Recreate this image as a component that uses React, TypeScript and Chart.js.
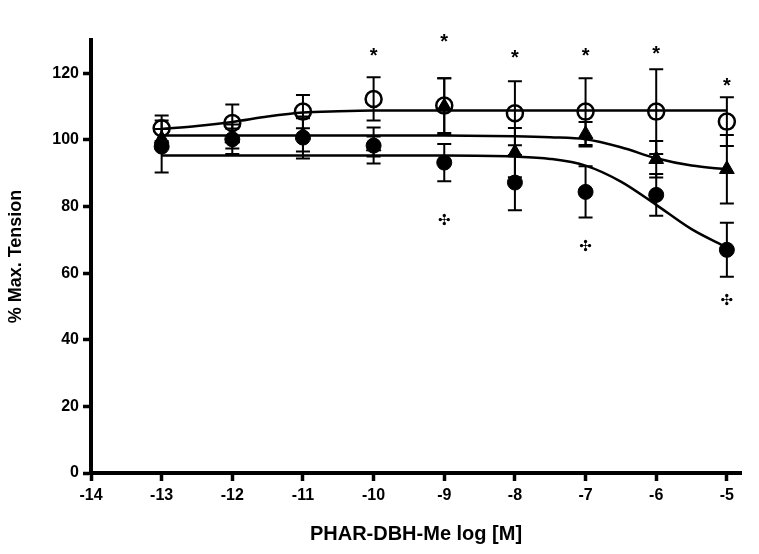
import { useEffect, useRef } from "react";
import { Chart, registerables, type Plugin } from "chart.js";

Chart.register(...registerables);

// doses (log M) and measured responses (% max tension), mean and SEM
const doses = [-13, -12, -11, -10, -9, -8, -7, -6, -5];
const openMean = [103.5, 105.1, 108.5, 112.3, 110.3, 108.0, 108.5, 108.5, 105.5];
const openSem = [3.8, 5.5, 5.0, 6.5, 8.2, 9.6, 10.0, 12.7, 7.3];
const triMean = [100.3, 100.4, 101.5, 98.0, 110.0, 96.2, 101.7, 94.2, 91.2];
const triSem = [3.0, 3.0, 5.0, 3.0, 8.5, 7.4, 3.7, 5.5, 10.3];
const dotMean = [98.0, 100.2, 100.7, 98.3, 93.2, 87.2, 84.4, 83.5, 67.0];
const dotSem = [7.8, 4.4, 6.3, 5.4, 5.6, 8.3, 7.7, 6.3, 8.1];

// fitted curves
const openFitX = [-13, -12.5, -12, -11.5, -11, -10.5, -10, -9, -5];
const openFit = [103.3, 104.2, 105.4, 107.0, 108.2, 108.6, 108.8, 108.8, 108.8];
const lowFitX = [-13, -9, -8, -7.5, -7, -6.5, -6, -5.5, -5];
const triFit = [101.3, 101.3, 101.1, 100.8, 100.2, 97.8, 94.5, 92.3, 91.2];
const dotFit = [95.3, 95.3, 95.0, 94.3, 92.3, 87.5, 80.5, 73.2, 67.7];

// significance marks
const starX = [-10, -9, -8, -7, -6, -5];
const starY = [126.3, 130.5, 125.8, 126.3, 127.1, 117.5];
const crossX = [-9, -7, -5];
const crossY = [76.0, 68.3, 52.1];

const xTicks = [-14, -13, -12, -11, -10, -9, -8, -7, -6, -5];
const yTicks = [0, 20, 40, 60, 80, 100, 120];

const FONT = "'Liberation Sans', Arial, sans-serif";

const pts = (xs: number[], ys: number[]) => xs.map((x, i) => ({ x, y: ys[i] }));

const errorBars: Plugin = {
    id: "errorBars",
    beforeDatasetsDraw(chart) {
        const { ctx, scales } = chart;
        const sx = scales.x, sy = scales.y;
        const groups = [
            { m: openMean, s: openSem },
            { m: triMean, s: triSem },
            { m: dotMean, s: dotSem },
        ];
        ctx.save();
        ctx.strokeStyle = "#000";
        ctx.lineWidth = 2;
        for (const g of groups) {
            doses.forEach((d, i) => {
                const x = sx.getPixelForValue(d);
                const yTop = sy.getPixelForValue(g.m[i] + g.s[i]);
                const yBot = sy.getPixelForValue(g.m[i] - g.s[i]);
                ctx.beginPath();
                ctx.moveTo(x, yTop); ctx.lineTo(x, yBot);
                ctx.moveTo(x - 7, yTop); ctx.lineTo(x + 7, yTop);
                ctx.moveTo(x - 7, yBot); ctx.lineTo(x + 7, yBot);
                ctx.stroke();
            });
        }
        ctx.restore();
    },
};

const marks: Plugin = {
    id: "marks",
    afterDraw(chart) {
        const { ctx, scales } = chart;
        const put = (txt: string, xs: number[], ys: number[], font: string) => {
            ctx.font = font;
            const m = ctx.measureText(txt);
            const dy = (m.actualBoundingBoxAscent - m.actualBoundingBoxDescent) / 2;
            xs.forEach((v, i) => {
                ctx.fillText(txt, scales.x.getPixelForValue(v), scales.y.getPixelForValue(ys[i]) + dy);
            });
        };
        ctx.save();
        ctx.fillStyle = "#000";
        ctx.textAlign = "center";
        ctx.textBaseline = "alphabetic";
        put("*", starX, starY, `bold 20px ${FONT}`);
        put("\u2723", crossX, crossY, "15px 'DejaVu Sans', sans-serif");
        ctx.restore();
    },
};

export default function App() {
    const canvasRef = useRef<HTMLCanvasElement>(null);
    const chartRef = useRef<Chart | null>(null);

    useEffect(() => {
        if (!canvasRef.current) return;
        if (chartRef.current) chartRef.current.destroy();

        const axisFont = { family: FONT, size: 16, weight: "bold" as const };
        const fitLine = { showLine: true, cubicInterpolationMode: "monotone" as const, borderColor: "#000", borderWidth: 2.5, pointRadius: 0, order: 5 };

        chartRef.current = new Chart(canvasRef.current, {
            type: "scatter",
            data: {
                datasets: [
                    { label: "fit open", data: pts(openFitX, openFit), ...fitLine },
                    { label: "fit triangle", data: pts(lowFitX, triFit), ...fitLine },
                    { label: "fit filled", data: pts(lowFitX, dotFit), ...fitLine },
                    {
                        label: "filled",
                        data: pts(doses, dotMean),
                        pointStyle: "circle",
                        pointRadius: 7.5,
                        backgroundColor: "#000",
                        borderColor: "#000",
                        borderWidth: 1,
                        order: 3,
                    },
                    {
                        label: "triangle",
                        data: pts(doses, triMean),
                        pointStyle: "triangle",
                        pointRadius: 8.5,
                        backgroundColor: "#000",
                        borderColor: "#000",
                        borderWidth: 1,
                        order: 2,
                    },
                    {
                        label: "open",
                        data: pts(doses, openMean),
                        pointStyle: "circle",
                        pointRadius: 8,
                        backgroundColor: "rgba(0,0,0,0)",
                        borderColor: "#000",
                        borderWidth: 2.5,
                        order: 1,
                    },
                ],
            },
            options: {
                animation: false,
                responsive: false,
                layout: { padding: { left: 4, right: 18, top: 40, bottom: 0 } },
                plugins: { legend: { display: false }, tooltip: { enabled: false } },
                scales: {
                    x: {
                        type: "linear",
                        min: -14,
                        max: -4.8,
                        afterBuildTicks: (s) => { s.ticks = xTicks.map(v => ({ value: v })); },
                        afterFit: (s) => { s.height = 81; },
                        border: { display: true, color: "#000", width: 4 },
                        grid: { drawOnChartArea: false, drawTicks: true, tickLength: 8, tickWidth: 3.5, color: "#000" },
                        ticks: { color: "#000", font: axisFont, padding: 5, maxRotation: 0 },
                        title: {
                            display: true,
                            text: "PHAR-DBH-Me log [M]",
                            color: "#000",
                            font: { family: FONT, size: 20, weight: "bold" },
                            padding: { top: 0, bottom: 8 },
                        },
                    },
                    y: {
                        type: "linear",
                        min: 0,
                        max: 130,
                        afterBuildTicks: (s) => { s.ticks = yTicks.map(v => ({ value: v })); },
                        afterFit: (s) => { s.width = 87; },
                        border: { display: true, color: "#000", width: 4 },
                        grid: { drawOnChartArea: false, drawTicks: true, tickLength: 8, tickWidth: 3.5, color: "#000" },
                        ticks: { color: "#000", font: axisFont, padding: 4 },
                        title: {
                            display: true,
                            text: "% Max. Tension",
                            color: "#000",
                            font: { family: FONT, size: 18, weight: "bold" },
                            padding: { top: 1, bottom: 0 },
                        },
                    },
                },
            },
            plugins: [errorBars, marks],
        });

        return () => { chartRef.current?.destroy(); chartRef.current = null; };
    }, []);

    return (
        <div style={{ position: "fixed", left: 0, top: 0, width: 759, height: 554, background: "#fff" }}>
            <canvas ref={canvasRef} width={759} height={554} style={{ display: "block" }} />
        </div>
    );
}
